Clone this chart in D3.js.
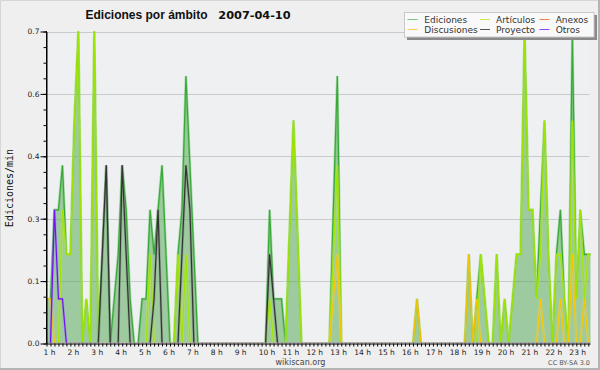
<!DOCTYPE html>
<html>
<head>
<meta charset="utf-8">
<script src="https://cdn.jsdelivr.net/npm/d3@7"></script>
<style>
  html, body { margin: 0; padding: 0; background: #efefef; }
  svg { display: block; }
</style>
</head>
<body>
<svg id="chart" width="600" height="370"></svg>
<script>
var titleText = "Ediciones por ámbito";
var dateText = "2007-04-10";
var yAxisLabel = "Ediciones/min";
var hourLabels = ["1 h", "2 h", "3 h", "4 h", "5 h", "6 h", "7 h", "8 h", "9 h", "10 h", "11 h", "12 h",
    "13 h", "14 h", "15 h", "16 h", "17 h", "18 h", "19 h", "20 h", "21 h", "22 h", "23 h"];
var yTicks = [0, 0.14, 0.28, 0.42, 0.56, 0.7];
var legendNames = ["Ediciones", "Artículos", "Anexos", "Discusiones", "Proyecto", "Otros"];

// one value per 10 minutes, one row per hour (1 h .. 23 h)
var ediciones = [
    0.1, 0.1, 0.3, 0.3, 0.4, 0.2,
    0.2, 0.5, 0.7, 0, 0.1, 0,
    0.7, 0, 0.2, 0.4, 0, 0.1,
    0.2, 0.4, 0.3, 0.1, 0, 0,
    0.1, 0.1, 0.3, 0.2, 0.3, 0.4,
    0.2, 0, 0, 0.2, 0.3, 0.6,
    0.4, 0.2, 0, 0, 0, 0,
    0, 0, 0, 0, 0, 0,
    0, 0, 0, 0, 0, 0,
    0, 0, 0.3, 0.1, 0.1, 0.1,
    0, 0.25, 0.5, 0.25, 0, 0,
    0, 0, 0, 0, 0, 0,
    0.3, 0.6, 0, 0, 0, 0,
    0, 0, 0, 0, 0, 0,
    0, 0, 0, 0, 0, 0,
    0, 0, 0, 0.1, 0, 0,
    0, 0, 0, 0, 0, 0,
    0, 0, 0, 0, 0.2, 0,
    0.1, 0.2, 0.1, 0, 0, 0.2,
    0, 0.1, 0, 0.1, 0.2, 0.2,
    0.7, 0.3, 0.3, 0.1, 0.3, 0.5,
    0.2, 0, 0.2, 0.3, 0.1, 0,
    0.7, 0.1, 0.3, 0.2, 0.2, 0.2
];
var articulos = [
    0, 0, 0, 0, 0.3, 0.2,
    0.2, 0.5, 0.7, 0, 0.1, 0,
    0.7, 0, 0, 0, 0, 0,
    0, 0, 0, 0, 0, 0,
    0, 0, 0.2, 0, 0, 0,
    0, 0, 0, 0.2, 0, 0.2,
    0, 0, 0, 0, 0, 0,
    0, 0, 0, 0, 0, 0,
    0, 0, 0, 0, 0, 0,
    0, 0, 0.1, 0, 0, 0,
    0, 0.25, 0.5, 0.25, 0, 0,
    0, 0, 0, 0, 0, 0,
    0.2, 0.4, 0, 0, 0, 0,
    0, 0, 0, 0, 0, 0,
    0, 0, 0, 0, 0, 0,
    0, 0, 0, 0, 0, 0,
    0, 0, 0, 0, 0, 0,
    0, 0, 0, 0, 0, 0,
    0, 0.2, 0.1, 0, 0, 0.2,
    0, 0.1, 0, 0.1, 0.2, 0.2,
    0.7, 0.3, 0.3, 0.1, 0.2, 0.5,
    0.2, 0, 0.2, 0.2, 0.1, 0,
    0.5, 0.1, 0.3, 0.1, 0.2, 0.2
];
var discusiones = [
    0.1, 0.1, 0, 0, 0, 0,
    0, 0, 0, 0, 0, 0,
    0, 0, 0, 0, 0, 0,
    0, 0, 0, 0, 0, 0,
    0, 0, 0, 0, 0, 0,
    0, 0, 0, 0, 0, 0,
    0, 0, 0, 0, 0, 0,
    0, 0, 0, 0, 0, 0,
    0, 0, 0, 0, 0, 0,
    0, 0, 0, 0, 0, 0,
    0, 0, 0, 0, 0, 0,
    0, 0, 0, 0, 0, 0,
    0.1, 0.2, 0, 0, 0, 0,
    0, 0, 0, 0, 0, 0,
    0, 0, 0, 0, 0, 0,
    0, 0, 0, 0.1, 0, 0,
    0, 0, 0, 0, 0, 0,
    0, 0, 0, 0, 0.2, 0,
    0.1, 0, 0, 0, 0, 0,
    0, 0, 0, 0, 0, 0,
    0, 0, 0, 0, 0.1, 0,
    0, 0, 0, 0.1, 0, 0,
    0.2, 0, 0, 0.1, 0, 0
];
var proyecto = [
    0, 0, 0, 0, 0, 0,
    0, 0, 0, 0, 0, 0,
    0, 0, 0.2, 0.4, 0, 0,
    0, 0.4, 0.2, 0, 0, 0,
    0, 0, 0, 0.1, 0.3, 0,
    0, 0, 0, 0, 0.2, 0.4,
    0.3, 0, 0, 0, 0, 0,
    0, 0, 0, 0, 0, 0,
    0, 0, 0, 0, 0, 0,
    0, 0, 0.2, 0.1, 0, 0,
    0, 0, 0, 0, 0, 0,
    0, 0, 0, 0, 0, 0,
    0, 0, 0, 0, 0, 0,
    0, 0, 0, 0, 0, 0,
    0, 0, 0, 0, 0, 0,
    0, 0, 0, 0, 0, 0,
    0, 0, 0, 0, 0, 0,
    0, 0, 0, 0, 0, 0,
    0, 0, 0, 0, 0, 0,
    0, 0, 0, 0, 0, 0,
    0, 0, 0, 0, 0, 0,
    0, 0, 0, 0, 0, 0,
    0, 0, 0, 0, 0, 0
];
var otros = [
    0, 0, 0.3, 0.1, 0.1, 0,
    0, 0, 0, 0, 0, 0,
    0, 0, 0, 0, 0, 0,
    0, 0, 0, 0, 0, 0,
    0, 0, 0, 0, 0, 0,
    0, 0, 0, 0, 0, 0,
    0, 0, 0, 0, 0, 0,
    0, 0, 0, 0, 0, 0,
    0, 0, 0, 0, 0, 0,
    0, 0, 0, 0, 0, 0,
    0, 0, 0, 0, 0, 0,
    0, 0, 0, 0, 0, 0,
    0, 0, 0, 0, 0, 0,
    0, 0, 0, 0, 0, 0,
    0, 0, 0, 0, 0, 0,
    0, 0, 0, 0, 0, 0,
    0, 0, 0, 0, 0, 0,
    0, 0, 0, 0, 0, 0,
    0, 0, 0, 0, 0, 0,
    0, 0, 0, 0, 0, 0,
    0, 0, 0, 0, 0, 0,
    0, 0, 0, 0, 0, 0,
    0, 0, 0, 0, 0, 0
];

var firstHour = 1, binsPerHour = 6;
var yMax = 0.7;

var W = 600, H = 370;
var plot = { left: 46.5, right: 589.5, top: 31.5, bottom: 343.5 };

var svg = d3.select("#chart");

// page background and frame
svg.append("rect").attr("width", W).attr("height", H).attr("fill", "#efefef");
svg.append("path")
    .attr("d", "M0.5," + H + "V0.5H" + W)
    .attr("fill", "none").attr("stroke", "#d6d6d6");
svg.append("path")
    .attr("d", "M" + (W - 1) + ",0V" + (H - 1) + "H0")
    .attr("fill", "none").attr("stroke", "#b4b4b4").attr("stroke-width", 2);

var x = d3.scaleLinear()
    .domain([firstHour, firstHour + 136.3 / binsPerHour])
    .range([plot.left, plot.right]);
var y = d3.scaleLinear()
    .domain([0, yMax])
    .range([plot.bottom, plot.top]);

function timeOf(d, i) { return firstHour + i / binsPerHour; }

// plot background and grid
svg.append("rect")
    .attr("x", plot.left).attr("y", plot.top)
    .attr("width", plot.right - plot.left).attr("height", plot.bottom - plot.top)
    .attr("fill", "#eef0f2");

svg.append("g").attr("class", "grid")
    .selectAll("line")
    .data(yTicks.slice(1))
    .enter().append("line")
    .attr("x1", plot.left).attr("x2", plot.right)
    .attr("y1", function(d) { return Math.round(y(d)) + 0.5; })
    .attr("y2", function(d) { return Math.round(y(d)) + 0.5; })
    .attr("stroke", "#c9cacc");

svg.append("clipPath").attr("id", "plotClip")
    .append("rect")
    .attr("x", plot.left).attr("y", plot.top - 1)
    .attr("width", plot.right - plot.left + 1).attr("height", plot.bottom - plot.top + 0.2);

var marks = svg.append("g").attr("clip-path", "url(#plotClip)");

var area = d3.area()
    .x(function(d, i) { return x(timeOf(d, i)); })
    .y0(y(0))
    .y1(function(d) { return y(d); });
var line = d3.line()
    .x(function(d, i) { return x(timeOf(d, i)); })
    .y(function(d) { return y(d); });

marks.append("path")
    .attr("d", area(ediciones))
    .attr("fill", "rgb(60,160,60)")
    .attr("fill-opacity", 0.46);

var lines = [
    { values: ediciones, color: "#38a838", glow: "#5cbf5c" },
    { values: articulos, color: "#9ee400", glow: "#c4f040" },
    { values: discusiones, color: "#f4c400", glow: "#f8d850" },
    { values: proyecto, color: "#333333", glow: "#777777" },
    { values: otros, color: "#7010f0", glow: "#a070ff" }
];

lines.forEach(function(s) {
    marks.append("path")
        .attr("d", line(s.values))
        .attr("fill", "none")
        .attr("stroke", s.glow)
        .attr("stroke-opacity", 0.45)
        .attr("stroke-width", 2.6);
    marks.append("path")
        .attr("d", line(s.values))
        .attr("fill", "none")
        .attr("stroke", s.color)
        .attr("stroke-width", 1.2);
});

// axes
var fmt = d3.format(".1f");
var minorY = d3.range(0, 21).map(function(k) { return k * yMax / 20; });
var minorX = d3.range(0, 137).map(function(k) { return firstHour + k / binsPerHour; });

svg.append("g")
    .attr("transform", "translate(" + plot.left + ",0)")
    .call(d3.axisLeft(y).tickValues(minorY).tickSize(3).tickSizeOuter(0).tickFormat(""));
svg.append("g")
    .attr("transform", "translate(" + plot.left + ",0)")
    .call(d3.axisLeft(y).tickValues(yTicks).tickSize(6).tickSizeOuter(0).tickFormat(fmt))
    .call(function(g) { g.select(".domain").remove(); })
    .call(function(g) {
        g.selectAll("text")
            .attr("x", -7)
            .attr("font-family", "DejaVu Sans")
            .attr("font-size", 7.5)
            .attr("fill", "#222");
    });

svg.append("g")
    .attr("transform", "translate(0," + plot.bottom + ")")
    .call(d3.axisBottom(x).tickValues(minorX).tickSize(3).tickSizeOuter(0).tickFormat(""))
    .call(function(g) { g.select(".domain").attr("d", "M" + plot.left + ",0.5H" + (plot.right + 1)); });

svg.append("g")
    .attr("transform", "translate(0," + plot.bottom + ")")
    .selectAll("text")
    .data(hourLabels)
    .enter().append("text")
    .attr("x", function(d, i) { return x(firstHour + i) - 3; })
    .attr("y", 11)
    .attr("font-family", "DejaVu Sans")
    .attr("font-size", 7.5)
    .attr("fill", "#222")
    .text(function(d) { return d; });

svg.append("line")
    .attr("x1", plot.left).attr("x2", plot.left)
    .attr("y1", plot.top - 0.5).attr("y2", plot.bottom)
    .attr("stroke", "#000");

// titles
svg.append("text")
    .attr("x", 85.5).attr("y", 18.5)
    .attr("font-family", "Liberation Sans").attr("font-weight", "bold").attr("font-size", 12)
    .attr("fill", "#111")
    .text(titleText);
svg.append("text")
    .attr("x", 218.3).attr("y", 18.5)
    .attr("font-family", "DejaVu Sans").attr("font-weight", "bold").attr("font-size", 11.3)
    .attr("fill", "#111")
    .text(dateText);

svg.append("text")
    .attr("transform", "translate(13,188) rotate(-90)")
    .attr("text-anchor", "middle")
    .attr("font-family", "DejaVu Sans Mono").attr("font-size", 10)
    .attr("fill", "#111")
    .text(yAxisLabel);

svg.append("text")
    .attr("x", 300.5).attr("y", 365)
    .attr("text-anchor", "middle")
    .attr("font-family", "DejaVu Sans").attr("font-size", 8)
    .attr("fill", "#444")
    .text("wikiscan.org");
svg.append("text")
    .attr("x", 590).attr("y", 365)
    .attr("text-anchor", "end")
    .attr("font-family", "DejaVu Sans").attr("font-size", 6.5)
    .attr("fill", "#555")
    .text("CC BY-SA 3.0");

// legend
var legendColors = ["#7cc47c", "#c6ee48", "#f08050", "#f8d048", "#555555", "#8a48ff"];
var legend = svg.append("g").attr("transform", "translate(404,12)");
legend.append("rect")
    .attr("x", 3).attr("y", 3).attr("width", 190).attr("height", 25)
    .attr("fill", "#8a8a8a");
legend.append("rect")
    .attr("x", 0.5).attr("y", 0.5).attr("width", 189.5).attr("height", 24.5)
    .attr("fill", "#f9f9f9").attr("stroke", "#c8c8c8");

var colX = [3.5, 76, 135.5], textX = [20.3, 92, 151.7];
legendNames.forEach(function(name, k) {
    var col = k % 3, row = Math.floor(k / 3);
    var ly = 7.5 + row * 10;
    legend.append("line")
        .attr("x1", colX[col]).attr("x2", colX[col] + 10)
        .attr("y1", ly).attr("y2", ly)
        .attr("stroke", legendColors[k]);
    legend.append("text")
        .attr("x", textX[col]).attr("y", ly + 3.3)
        .attr("font-family", "DejaVu Sans").attr("font-size", 9)
        .attr("fill", "#333")
        .text(name);
});
</script>
</body>
</html>
